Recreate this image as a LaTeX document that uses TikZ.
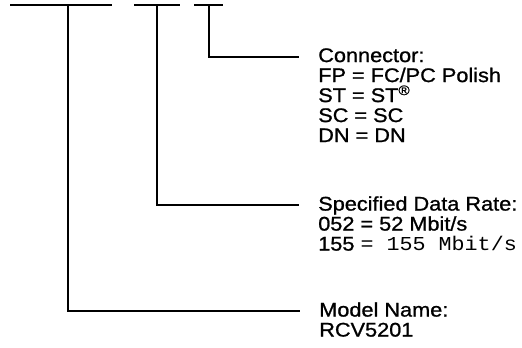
\documentclass[tikz,border=0pt]{standalone}
\usepackage{fontspec}
\setmainfont[FakeStretch=1.1,FakeBold=1]{Liberation Sans}
\setmonofont[FakeStretch=1.1]{Liberation Mono}
\usetikzlibrary{positioning}
\tikzset{
  lead/.style={line width=1.5pt},
  legend/.style={align=left, inner sep=0pt, font=\fontsize{14.8pt}{15pt}\selectfont},
}
\begin{document}
\begin{tikzpicture}[x=0.75pt,y=-0.75pt]
    \useasboundingbox (0,0) rectangle (522,347);
    % top bars of the part number
    \foreach \l/\m/\r/\n in {10/68/112/model,134/157/180/rate,194/209/223/conn}{
        \draw[lead] (\l,5) -- (\r,5);
        \coordinate (\n Top) at (\m,5);
    }
    \coordinate (connEnd) at (299,57);
    \coordinate (rateEnd) at (299,205);
    \coordinate (modelEnd) at (300,311);

    \node[legend, right=19 of connEnd, anchor=north west, yshift=6.75pt] (conn)
        {Connector:\\FP = FC/PC Polish\\ST = ST\textsuperscript{®}\\SC = SC\\DN = DN};
    \node[legend, right=19 of rateEnd, anchor=north west, yshift=6.75pt] (rate)
        {Specified Data Rate:\\052 = 52 Mbit/s\\155 {\ttfamily= 155 Mbit/s}};
    \node[legend, right=19 of modelEnd, anchor=north west, yshift=6.75pt] (model)
        {Model Name:\\RCV5201};

    \draw[lead] (connTop) |- (connEnd);
    \draw[lead] (rateTop) |- (rateEnd);
    \draw[lead] (modelTop) |- (modelEnd);
\end{tikzpicture}
\end{document}
